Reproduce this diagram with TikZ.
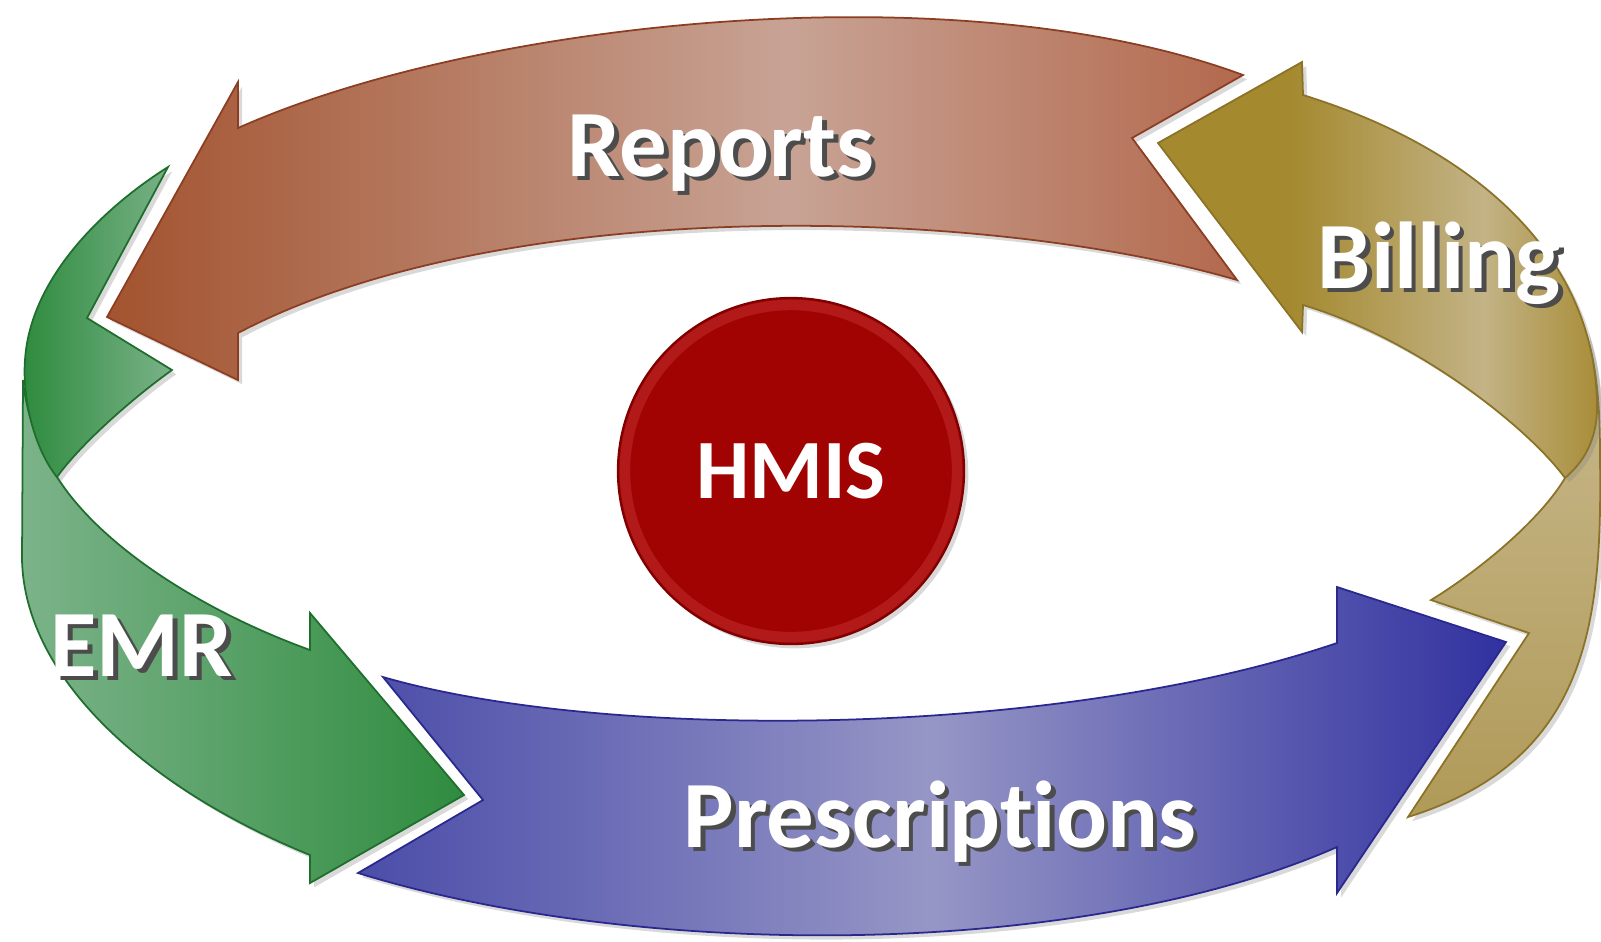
\documentclass[tikz,border=0pt]{standalone}
\usepackage{fontspec}
\setmainfont{Carlito}[Ligatures=NoCommon]
\usepackage{xcolor}
\usetikzlibrary{shadows}

\definecolor{rustA}{HTML}{A3532F}
\definecolor{rustB}{HTML}{C8A395}
\definecolor{rustC}{HTML}{B3694D}
\definecolor{rustD}{HTML}{8C3E22}
\definecolor{goldA}{HTML}{A4892F}
\definecolor{goldB}{HTML}{C3B386}
\definecolor{goldC}{HTML}{A88D38}
\definecolor{goldD}{HTML}{C9BA8F}
\definecolor{goldE}{HTML}{B09A58}
\definecolor{goldF}{HTML}{8A7226}
\definecolor{grnA}{HTML}{2E8B3E}
\definecolor{grnB}{HTML}{7AB288}
\definecolor{grnC}{HTML}{7CB38A}
\definecolor{grnD}{HTML}{2F8C3F}
\definecolor{grnE}{HTML}{1F6E2E}
\definecolor{bluA}{HTML}{4B4DA9}
\definecolor{bluB}{HTML}{9696C6}
\definecolor{bluC}{HTML}{3131A0}
\definecolor{bluD}{HTML}{28288E}
\definecolor{hmisA}{HTML}{A10303}
\definecolor{hmisB}{HTML}{C83434}
\definecolor{hmisC}{HTML}{7E0000}

\pgfdeclarehorizontalshading{rustshade}{100bp}{color(0bp)=(rustA); color(25bp)=(rustA);
  color(55bp)=(rustB); color(75bp)=(rustC); color(100bp)=(rustC)}
\pgfdeclarehorizontalshading{goldshade}{100bp}{color(0bp)=(goldA); color(25bp)=(goldA);
  color(40bp)=(goldA); color(62bp)=(goldB); color(75bp)=(goldC); color(100bp)=(goldC)}

\newcommand{\shtxt}[1]{\makebox[0pt][l]{\hspace{1.3pt}\raisebox{-1.3pt}{\color{black!70}#1}}#1}

\begin{document}
\begin{tikzpicture}[x=0.01cm,y=-0.01cm,
  arr/.style={line width=0.5pt, line join=miter,
    drop shadow={opacity=0.3, shadow xshift=1.2pt, shadow yshift=-1.2pt}},
  lbl/.style={text=white, inner sep=0pt, font=\fontsize{27}{32}\selectfont\bfseries},
  hub/.style={circle, minimum size=3.46cm, fill=hmisA, draw=hmisC, line width=0.6pt,
    text=white, font=\fontsize{24}{29}\selectfont\bfseries,
    drop shadow={opacity=0.3, shadow xshift=1.2pt, shadow yshift=-1.2pt},
    path picture={\draw[hmisB, line width=3pt, opacity=0.45] (path picture bounding box.center) circle (1.66cm);}}]
\useasboundingbox (0,0) rectangle (1601,941);
%\draw[help lines,yellow,thin] (0,0) grid[step=100] (1601,941);
% reports
\path[arr, shading=rustshade, draw=rustD]
 (107,317) -- (238,82) -- (238,128)
 .. controls (480,20) and (960,-30) .. (1243,75)
 -- (1132,138) -- (1237,280)
 .. controls (980,205) and (500,195) .. (238,333)
 -- (238,380) -- cycle;
% billing
\path[arr, top color=goldD, bottom color=goldE, draw=goldF]
 (1585,330) .. controls (1598,370) and (1600,410) .. (1600,460)
 .. controls (1602,620) and (1590,760) .. (1408,817)
 -- (1529,633) -- (1431,600)
 .. controls (1480,570) and (1540,520) .. (1565,478)
 .. controls (1590,440) and (1592,380) .. cycle;
\path[arr, shading=goldshade, draw=goldF]
 (1158,143) -- (1302,62) -- (1303,95)
 .. controls (1480,150) and (1598,260) .. (1597,410)
 .. controls (1596,445) and (1580,465) .. (1565,478)
 .. controls (1530,430) and (1420,340) .. (1303,305)
 -- (1302,332) -- cycle;
% emr
\path[arr, left color=grnC, right color=grnD, draw=grnE]
 (23,380) -- (22,560) .. controls (25,680) and (150,790) .. (310,855)
 -- (310,883) -- (464,795) -- (310,613) -- (310,650)
 .. controls (200,610) and (100,545) .. (57,477)
 .. controls (35,440) and (26,410) .. cycle;
\path[arr, left color=grnA, right color=grnB, draw=grnE]
 (168,167) .. controls (100,210) and (30,280) .. (25,360)
 .. controls (22,400) and (35,450) .. (57,477)
 .. controls (80,445) and (130,400) .. (172,370)
 -- (87,318) -- cycle;
% prescriptions
\path[arr, left color=bluA, right color=bluC, middle color=bluB, draw=bluD]
 (383,677) .. controls (600,740) and (1050,740) .. (1337,643)
 -- (1337,587) -- (1506,642) -- (1337,893) -- (1337,847)
 .. controls (1080,960) and (640,960) .. (358,873)
 -- (483,800) -- cycle;
\node [hub] (Hmis) at (791,471) {HMIS};
\node [lbl,anchor=base] (Rep) at (721,176) {\shtxt{Reports}};
\node [lbl,anchor=base] (Bil) at (1439,288) {\shtxt{Billing}};
\node [lbl,anchor=base] (Emr) at (142,676) {\shtxt{EMR}};
\node [lbl,anchor=base] (Pre) at (940,847) {\shtxt{Prescriptions}};
\end{tikzpicture}
\end{document}
